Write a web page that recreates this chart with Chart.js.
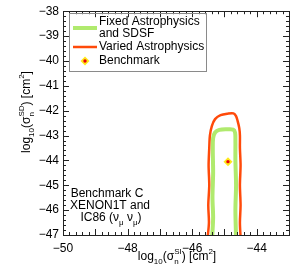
<!DOCTYPE html>
<html>
<head>
<meta charset="utf-8">
<script src="https://cdn.jsdelivr.net/npm/chart.js@4/dist/chart.umd.min.js"></script>
<style>
  html, body { margin: 0; padding: 0; background: #fff; }
  canvas { display: block; }
</style>
</head>
<body>
<canvas id="chart" width="299" height="268"></canvas>
<script>
'use strict';

// axis ranges and tick labels
const xRange = [-50, -43];
const yRange = [-47, -38];
const xTickValues = [-50, -48, -46, -44];
const yTickValues = [-47, -46, -45, -44, -43, -42, -41, -40, -39, -38];

// varied astrophysics contour (red), traced bottom-left -> top -> bottom-right
const variedX = [-45.52, -45.48, -45.50, -45.47, -45.49, -45.47, -45.45, -45.39, -45.29, -45.12, -44.90, -44.72, -44.64, -44.59, -44.54, -44.52, -44.52, -44.50, -44.52, -44.50, -44.52, -44.50];
const variedY = [-47.10, -46.50, -45.80, -45.00, -44.20, -43.50, -43.00, -42.62, -42.34, -42.18, -42.12, -42.11, -42.22, -42.42, -42.70, -43.00, -43.50, -44.20, -45.00, -45.80, -46.50, -47.10];

// fixed astrophysics and SDSF contour (green)
const fixedX = [-45.38, -45.35, -45.37, -45.35, -45.36, -45.35, -45.29, -45.16, -44.92, -44.73, -44.67, -44.66, -44.66, -44.64, -44.66, -44.64];
const fixedY = [-47.10, -46.30, -45.50, -44.50, -43.60, -43.10, -42.88, -42.77, -42.75, -42.76, -42.88, -43.20, -44.00, -45.00, -46.00, -47.10];

// benchmark point
const benchX = [-44.89];
const benchY = [-44.05];

const RED = '#ff4a0a';
const GREEN = '#b0ea6e';
const YELLOW = '#ffe81a';
const DOT = '#e8000b';
const FONT = '"Liberation Sans", Arial, Helvetica, sans-serif';

const pts = (xs, ys) => xs.map((x, i) => ({ x, y: ys[i] }));
const fmt = v => (v < 0 ? '\u2212' : '') + Math.abs(v);

// text with sub/superscripts, parts: {t, sub, sup}
function richWidth(ctx, parts, size, small) {
  let w = 0;
  for (const p of parts) {
    ctx.font = size + 'px ' + FONT;
    w += ctx.measureText(p.t).width;
    ctx.font = small + 'px ' + FONT;
    w += Math.max(p.sub ? ctx.measureText(p.sub).width : 0, p.sup ? ctx.measureText(p.sup).width : 0);
  }
  return w;
}
function drawRich(ctx, parts, cx, cy, size, small) {
  let x = cx - richWidth(ctx, parts, size, small) / 2;
  ctx.textBaseline = 'middle';
  ctx.textAlign = 'left';
  for (const p of parts) {
    ctx.font = size + 'px ' + FONT;
    ctx.fillText(p.t, x, cy);
    x += ctx.measureText(p.t).width;
    ctx.font = small + 'px ' + FONT;
    let w = 0;
    if (p.sub) { ctx.fillText(p.sub, x, cy + 5); w = ctx.measureText(p.sub).width; }
    if (p.sup) { ctx.fillText(p.sup, x, cy - 5); w = Math.max(w, ctx.measureText(p.sup).width); }
    x += w;
  }
}

const decor = {
  id: 'decor',
  afterDraw(chart) {
    const { ctx, chartArea: a, scales: { x, y } } = chart;
    ctx.save();

    // frame
    ctx.strokeStyle = '#222';
    ctx.lineWidth = 1;
    ctx.strokeRect(Math.round(a.left) + 0.5, Math.round(a.top) + 0.5, Math.round(a.right - a.left), Math.round(a.bottom - a.top));

    // inward ticks
    ctx.beginPath();
    for (let v = xRange[0]; v <= xRange[1] + 1e-6; v += 0.2) {
      const px = Math.round(x.getPixelForValue(v)) + 0.5;
      const major = Math.abs(v - Math.round(v)) < 1e-6;
      const len = major ? 6 : 3;
      ctx.moveTo(px, a.bottom); ctx.lineTo(px, a.bottom - len);
      ctx.moveTo(px, a.top); ctx.lineTo(px, a.top + len);
    }
    for (let v = yRange[0]; v <= yRange[1] + 1e-6; v += 0.2) {
      const py = Math.round(y.getPixelForValue(v)) + 0.5;
      const major = Math.abs(v - Math.round(v)) < 1e-6;
      const len = major ? 6 : 3;
      ctx.moveTo(a.left, py); ctx.lineTo(a.left + len, py);
      ctx.moveTo(a.right, py); ctx.lineTo(a.right - len, py);
    }
    ctx.stroke();

    // legend
    ctx.strokeStyle = '#8a8a8a';
    ctx.strokeRect(69.5, 13.5, 137, 58);
    ctx.lineCap = 'butt';
    ctx.strokeStyle = GREEN; ctx.lineWidth = 4;
    ctx.beginPath(); ctx.moveTo(73, 28); ctx.lineTo(97, 28); ctx.stroke();
    ctx.strokeStyle = RED; ctx.lineWidth = 2.5;
    ctx.beginPath(); ctx.moveTo(73, 47); ctx.lineTo(97, 47); ctx.stroke();
    ctx.fillStyle = YELLOW;
    ctx.beginPath(); ctx.moveTo(85, 56.5); ctx.lineTo(89.5, 61); ctx.lineTo(85, 65.5); ctx.lineTo(80.5, 61); ctx.closePath(); ctx.fill();
    ctx.fillStyle = DOT;
    ctx.beginPath(); ctx.arc(85, 61, 1.7, 0, Math.PI * 2); ctx.fill();

    ctx.fillStyle = '#000';
    ctx.font = '12px ' + FONT;
    ctx.textAlign = 'left';
    ctx.textBaseline = 'middle';
    ctx.fillText('Fixed Astrophysics', 99, 22);
    ctx.fillText('and SDSF', 99, 34);
    ctx.fillText('Varied Astrophysics', 99, 47);
    ctx.fillText('Benchmark', 99, 61);

    // annotation
    ctx.textAlign = 'center';
    ctx.fillText('Benchmark C', 107, 194);
    ctx.fillText('XENON1T and', 110, 206);
    drawRich(ctx, [{ t: 'IC86 (\u03bd', sub: '\u03bc' }, { t: ' \u03bd', sub: '\u03bc' }, { t: ')' }], 111, 218, 12, 8);

    // axis titles
    drawRich(ctx, [{ t: 'log', sub: '10' }, { t: '(\u03c3', sub: 'n', sup: 'SI' }, { t: ') [cm', sup: '2' }, { t: ']' }], 177, 257, 12, 8);
    ctx.translate(27, 112);
    ctx.rotate(-Math.PI / 2);
    drawRich(ctx, [{ t: 'log', sub: '10' }, { t: '(\u03c3', sub: 'n', sup: 'SD' }, { t: ') [cm', sup: '2' }, { t: ']' }], 0, 0, 12, 8);

    ctx.restore();
  }
};

new Chart(document.getElementById('chart'), {
  type: 'scatter',
  data: {
    datasets: [
      {
        label: 'Benchmark centre',
        data: pts(benchX, benchY),
        pointRadius: 1.7,
        backgroundColor: DOT,
        borderWidth: 0,
      },
      {
        label: 'Benchmark',
        data: pts(benchX, benchY),
        pointStyle: 'rectRot',
        pointRadius: 4.5,
        backgroundColor: YELLOW,
        borderWidth: 0,
      },
      {
        label: 'Fixed Astrophysics and SDSF',
        data: pts(fixedX, fixedY),
        showLine: true,
        borderColor: GREEN,
        borderWidth: 4,
        pointRadius: 0,
        tension: 0.3,
      },
      {
        label: 'Varied Astrophysics',
        data: pts(variedX, variedY),
        showLine: true,
        borderColor: RED,
        borderWidth: 2.5,
        pointRadius: 0,
        tension: 0.3,
      },
    ]
  },
  options: {
    responsive: false,
    animation: false,
    devicePixelRatio: 1,
    layout: { padding: { top: 8, right: 10, left: 0, bottom: 0 } },
    plugins: { legend: { display: false }, tooltip: { enabled: false } },
    scales: {
      x: {
        type: 'linear',
        min: xRange[0],
        max: xRange[1],
        afterBuildTicks: s => { s.ticks = xTickValues.map(v => ({ value: v })); },
        afterFit: s => { s.height = 33; },
        grid: { display: false, drawTicks: false },
        border: { display: false },
        ticks: { callback: fmt, color: '#000', font: { family: FONT, size: 12 }, padding: 6, maxRotation: 0, autoSkip: false },
      },
      y: {
        type: 'linear',
        min: yRange[0],
        max: yRange[1],
        afterBuildTicks: s => { s.ticks = yTickValues.map(v => ({ value: v })); },
        afterFit: s => { s.width = 63; },
        grid: { display: false, drawTicks: false },
        border: { display: false },
        ticks: { callback: fmt, color: '#000', font: { family: FONT, size: 12 }, padding: 4, autoSkip: false },
      },
    }
  },
  plugins: [decor]
});
</script>
</body>
</html>
